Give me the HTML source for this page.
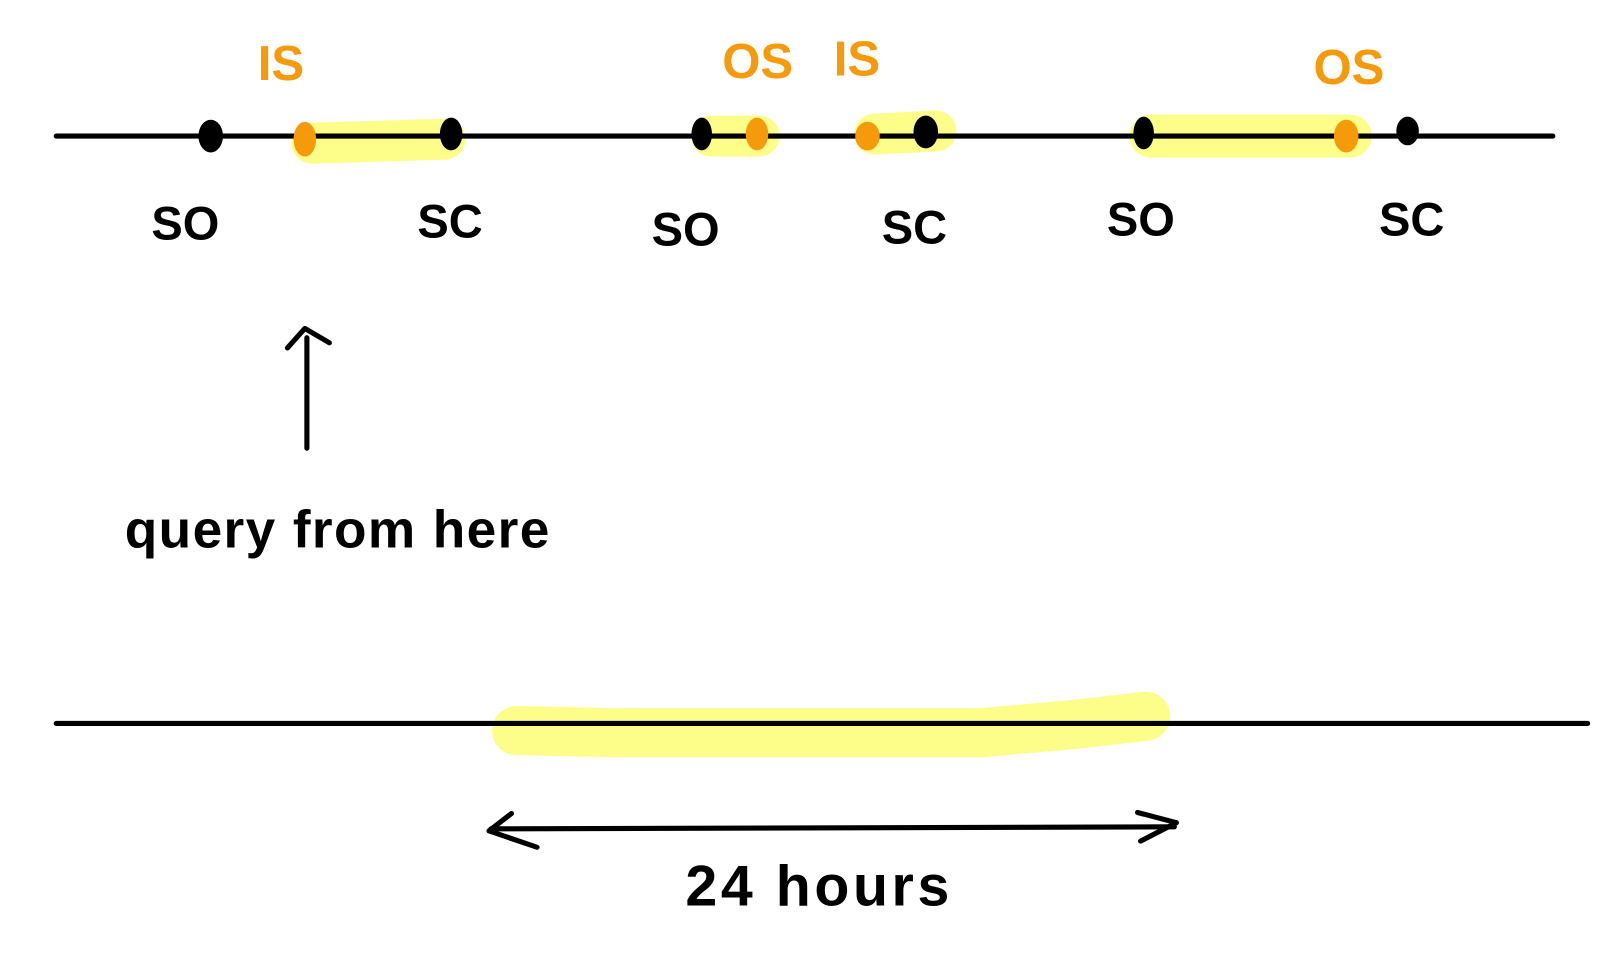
<!DOCTYPE html>
<html><head><meta charset="utf-8"><style>
html,body{margin:0;padding:0;background:#fff;}
svg{display:block;}
text{font-family:"Liberation Sans",sans-serif;font-weight:bold;}
</style></head><body>
<svg width="1604" height="968" viewBox="0 0 1568 946" preserveAspectRatio="none" xmlns="http://www.w3.org/2000/svg">
<rect width="1568" height="946" fill="#fff"/>
<g stroke="#fdfd8a" stroke-linecap="round" fill="none">
<line x1="305" y1="140" x2="435" y2="136" stroke-width="40"/>
<line x1="695" y1="133" x2="742" y2="133" stroke-width="40"/>
<line x1="855" y1="131" x2="915" y2="128" stroke-width="40"/>
<line x1="1125" y1="133" x2="1320" y2="133" stroke-width="42"/>
<path d="M505 714 L600 716 L960 716 L1050 708 L1120 700" stroke-width="48"/>
</g>
<line x1="55" y1="133" x2="1518" y2="133" stroke="#000" stroke-width="5" stroke-linecap="round"/>
<g fill="#000">
<ellipse cx="206" cy="133" rx="12" ry="16"/>
<ellipse cx="441" cy="131" rx="11" ry="16"/>
<ellipse cx="686" cy="131" rx="10" ry="16"/>
<ellipse cx="905" cy="129" rx="12" ry="16"/>
<ellipse cx="1118" cy="130" rx="10" ry="16"/>
<ellipse cx="1376" cy="128" rx="11" ry="14"/>
</g>
<g fill="#f59a0a">
<ellipse cx="298" cy="136" rx="11" ry="17"/>
<ellipse cx="740" cy="131" rx="11" ry="16"/>
<ellipse cx="848" cy="133" rx="12" ry="14"/>
<ellipse cx="1316" cy="133" rx="12" ry="16"/>
</g>
<g fill="#f59a0a" font-size="48">
<text x="252" y="78">IS</text>
<text x="706" y="76">OS</text>
<text x="815" y="74">IS</text>
<text x="1284" y="82">OS</text>
</g>
<g fill="#000" font-size="46">
<text x="148" y="234">SO</text>
<text x="408" y="232">SC</text>
<text x="637" y="240">SO</text>
<text x="862" y="238">SC</text>
<text x="1082" y="230">SO</text>
<text x="1348" y="230">SC</text>
</g>
<g stroke="#000" stroke-width="5" fill="none" stroke-linecap="round" stroke-linejoin="round">
<line x1="300" y1="438" x2="300" y2="330"/>
<path d="M281 340 L298 321 L322 335"/>
</g>
<text x="122" y="535" font-size="52" fill="#000" textLength="415" lengthAdjust="spacing">query from here</text>
<line x1="55" y1="707" x2="1552" y2="707" stroke="#000" stroke-width="5" stroke-linecap="round"/>
<g stroke="#000" stroke-width="5" fill="none" stroke-linecap="round" stroke-linejoin="round">
<line x1="480" y1="810" x2="1148" y2="808"/>
<path d="M500 795 L478 812 L525 828"/>
<path d="M1112 794 L1150 804 L1115 822"/>
</g>
<text x="670" y="885" font-size="56" fill="#000" textLength="258" lengthAdjust="spacing">24 hours</text>
</svg>
</body></html>
